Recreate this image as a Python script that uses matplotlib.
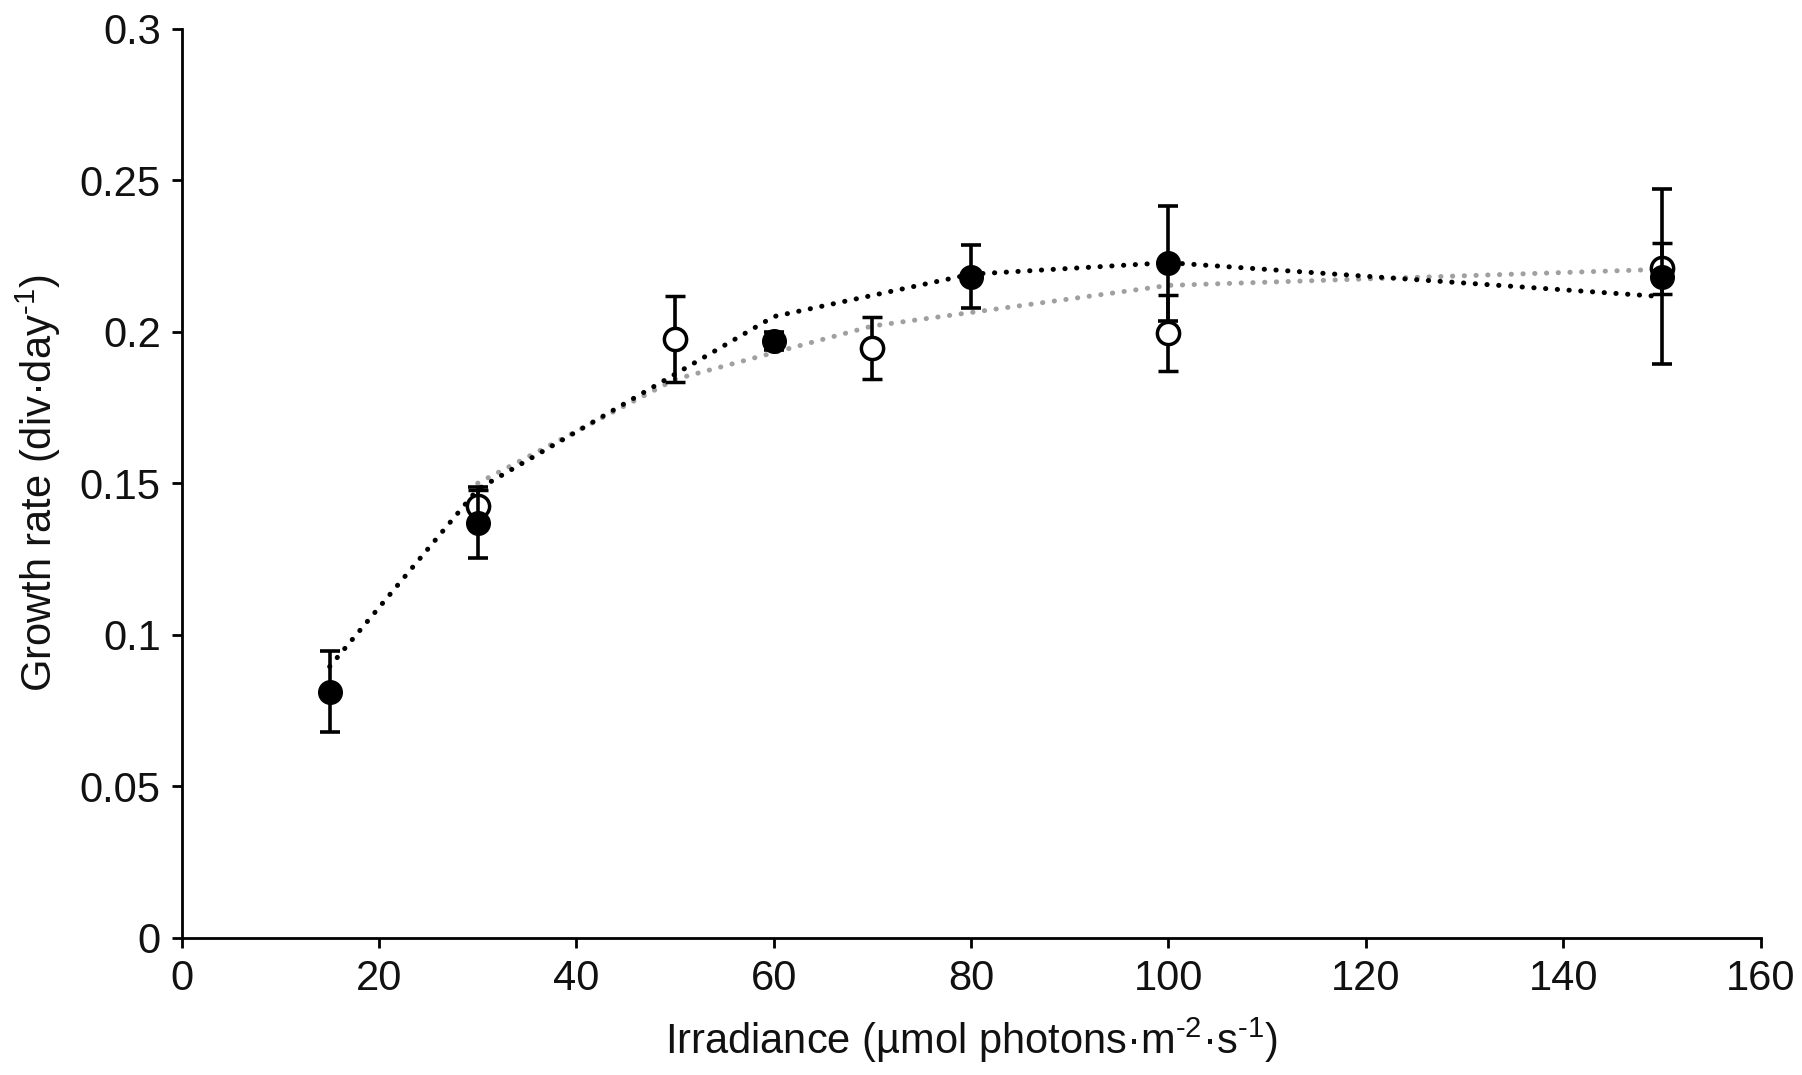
import matplotlib.pyplot as plt

plt.rcParams['font.family'] = ['Liberation Sans', 'DejaVu Sans']
plt.rcParams['mathtext.fontset'] = 'custom'
plt.rcParams['mathtext.rm'] = 'Liberation Sans'

# filled circles
x_filled = [15, 30, 60, 80, 100, 150]
y_filled = [0.0812, 0.137, 0.197, 0.2182, 0.2226, 0.2182]
err_filled = [0.0133, 0.0117, 0.003, 0.0103, 0.019, 0.029]
fit_filled = [0.0895, 0.148, 0.205, 0.219, 0.2228, 0.2116]

# open circles
x_open = [30, 50, 70, 100, 150]
y_open = [0.1426, 0.1975, 0.1946, 0.1997, 0.2209]
err_open = [0.0053, 0.0142, 0.0103, 0.0125, 0.0083]
fit_open = [0.150, 0.1843, 0.2019, 0.2153, 0.2206]

x_ticks = [0, 20, 40, 60, 80, 100, 120, 140, 160]
y_ticks = [0, 0.05, 0.1, 0.15, 0.2, 0.25, 0.3]
y_tick_labels = ['0', '0.05', '0.1', '0.15', '0.2', '0.25', '0.3']

fig = plt.figure(figsize=(18.02, 10.75), dpi=100)
ax = fig.add_axes([0.1008, 0.1276, 0.8762, 0.8457])

dots = (0, (0.05, 2.3))
ax.plot(x_open, fit_open, color='#a0a0a0', lw=3.6, linestyle=dots,
        dash_capstyle='round', zorder=1)
ax.plot(x_filled, fit_filled, color='black', lw=3.6, linestyle=dots,
        dash_capstyle='round', zorder=1)

ax.errorbar(x_open, y_open, yerr=err_open, fmt='o', color='black',
            mfc='white', mec='black', mew=2.5, ms=16, elinewidth=2.6,
            capsize=7, capthick=2.6, zorder=2)
ax.errorbar(x_filled, y_filled, yerr=err_filled, fmt='o', color='black',
            mfc='black', mec='black', ms=17, elinewidth=2.6,
            capsize=7, capthick=2.6, zorder=3)

ax.set_xlim(0, 160)
ax.set_ylim(0, 0.3)
ax.set_xticks(x_ticks)
ax.set_yticks(y_ticks)
ax.set_yticklabels(y_tick_labels)
ax.spines['top'].set_visible(False)
ax.spines['right'].set_visible(False)
ax.spines['left'].set_linewidth(2)
ax.spines['bottom'].set_linewidth(2)
ax.tick_params(direction='out', length=7, width=2, labelsize=30, pad=8,
               labelcolor='#111111')

ax.set_xlabel(r'Irradiance (µmol photons·m$\mathregular{^{\text{-}2}}$·s$\mathregular{^{\text{-}1}}$)',
              fontsize=30, labelpad=12, color='#111111')
ax.set_ylabel(r'Growth rate (div·day$\mathregular{^{\text{-}1}}$)', fontsize=30,
              labelpad=12, color='#111111')

plt.savefig('out.png', dpi=100)
